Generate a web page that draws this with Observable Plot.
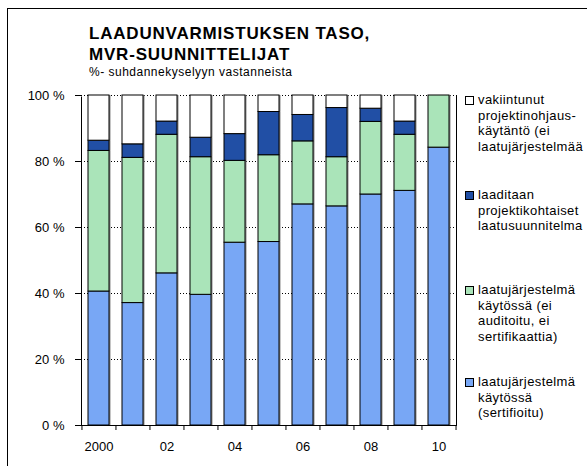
<!DOCTYPE html>
<html><head><meta charset="utf-8">
<script src="https://cdn.jsdelivr.net/npm/d3@7"></script>
<script src="https://cdn.jsdelivr.net/npm/@observablehq/plot@0.6"></script>
<style>
html,body{margin:0;padding:0}
body{width:587px;height:466px;overflow:hidden;background:#fff;font-family:"Liberation Sans",Arial,sans-serif;position:relative;color:#000}
#frame{position:absolute;left:7px;top:8px;width:700px;height:600px;border:1.5px solid #000;box-sizing:border-box}
#title{position:absolute;left:89px;top:23px;font-weight:bold;font-size:17px;line-height:21px;letter-spacing:0.8px;white-space:nowrap}
#subtitle{position:absolute;left:89px;top:65px;font-size:12px;letter-spacing:0.5px;white-space:nowrap}
#chart{position:absolute;left:0;top:80px}
#legend{position:absolute;left:464px;top:0}
.item{position:absolute;left:0;width:200px;font-size:13px;line-height:15.5px;letter-spacing:0.4px;padding-left:14px;white-space:nowrap}
.sw{position:absolute;left:1px;top:4px;width:7px;height:7px;border:1px solid #000}
</style>
</head><body>
<div id="frame"></div>
<div id="title">LAADUNVARMISTUKSEN TASO,<br>MVR-SUUNNITTELIJAT</div>
<div id="subtitle">%- suhdannekyselyyn vastanneista</div>
<div id="chart"></div>
<div id="legend"></div>
<script>
// ---- data ----
const years = [2000, 2001, 2002, 2003, 2004, 2005, 2006, 2007, 2008, 2009, 2010];
const seriesNames = [
  "laatujärjestelmä käytössä (sertifioitu)",
  "laatujärjestelmä käytössä (ei auditoitu, ei sertifikaattia)",
  "laaditaan projektikohtaiset laatusuunnitelma",
  "vakiintunut projektinohjauskäytäntö (ei laatujärjestelmää"
];
const legendLines = [
  ["laatujärjestelmä", "käytössä", "(sertifioitu)"],
  ["laatujärjestelmä", "käytössä (ei", "auditoitu, ei", "sertifikaattia)"],
  ["laaditaan", "projektikohtaiset", "laatusuunnitelma"],
  ["vakiintunut", "projektinohjaus-", "käytäntö (ei", "laatujärjestelmää"]
];
const sertifioitu       = [40.6, 37.1, 46.1, 39.6, 55.4, 55.6, 67.0, 66.4, 70.0, 71.1, 84.2];
const eiAuditoitu       = [42.6, 44.0, 42.0, 41.7, 24.8, 26.3, 19.1, 14.9, 22.0, 17.0, 15.8];
const projektikohtaiset = [ 3.1,  4.1,  4.0,  5.9,  8.1, 13.1,  8.0, 14.9,  4.0,  4.0,  0.0];
const vakiintunut       = [13.7, 14.8,  7.9, 12.8, 11.7,  5.0,  5.9,  3.8,  4.0,  7.9,  0.0];
const colors = ["#78a7f5", "#aae4b9", "#214fa5", "#ffffff"];
const yTicks = [0, 20, 40, 60, 80, 100];
const xLabelYears = [2000, 2002, 2004, 2006, 2008, 2010];
const xTickLabels = ["2000", "02", "04", "06", "08", "10"];

// ---- table ----
const seriesValues = [sertifioitu, eiAuditoitu, projektikohtaiset, vakiintunut];
const data = years.flatMap((yr, i) => seriesNames.map((s, k) => ({year: yr, series: s, value: seriesValues[k][i]})));

// ---- layout ----
const W = 470, H = 385, ML = 81, MR = 14, MT = 15, MB = 40;
const step = (W - ML - MR) / years.length;

const chart = Plot.plot({
  width: W, height: H,
  marginLeft: ML, marginRight: MR, marginTop: MT, marginBottom: MB,
  style: {fontFamily: "Liberation Sans, Arial, sans-serif", fontSize: "13px", color: "#000", background: "transparent", overflow: "visible"},
  x: {domain: years, paddingInner: 0.375, paddingOuter: 0.1875, axis: null, label: null},
  y: {domain: [0, 100], axis: null, label: null},
  color: {domain: seriesNames, range: colors},
  marks: [
    Plot.frame({stroke: "#000"}),
    Plot.ruleY([100], {stroke: "#fff", strokeWidth: 2}),
    Plot.ruleY(yTicks.slice(1), {stroke: "#000", strokeDasharray: "1,2"}),
    Plot.barY(data, {x: "year", y: "value", fill: "#8a8a8a", dx: 1.5}),
    Plot.barY(data, {x: "year", y: "value", fill: "series", stroke: "#000", strokeWidth: 1}),
    Plot.axisY({ticks: yTicks, tickFormat: d => `${d} %`, tickSize: 6, tickPadding: 11, fontSize: 13, label: null}),
    Plot.axisX({ticks: xLabelYears, tickFormat: d => xTickLabels[xLabelYears.indexOf(d)], tickSize: 0, tickPadding: 16, fontSize: 13, label: null}),
    Plot.axisX({ticks: years, tickFormat: () => "", tickSize: 5, dx: -step / 2, label: null}),
    Plot.axisX({ticks: [years[years.length - 1]], tickFormat: () => "", tickSize: 5, dx: step / 2, label: null})
  ]
});
document.getElementById("chart").appendChild(chart);

// ---- legend ----
const legendTops = [374, 282, 187, 92];
const legend = document.getElementById("legend");
seriesNames.forEach((s, k) => {
  const item = document.createElement("div");
  item.className = "item";
  item.style.top = legendTops[k] + "px";
  const sw = document.createElement("div");
  sw.className = "sw";
  sw.style.background = colors[k];
  item.appendChild(sw);
  item.insertAdjacentHTML("beforeend", legendLines[k].join("<br>"));
  legend.appendChild(item);
});
</script>
</body></html>
